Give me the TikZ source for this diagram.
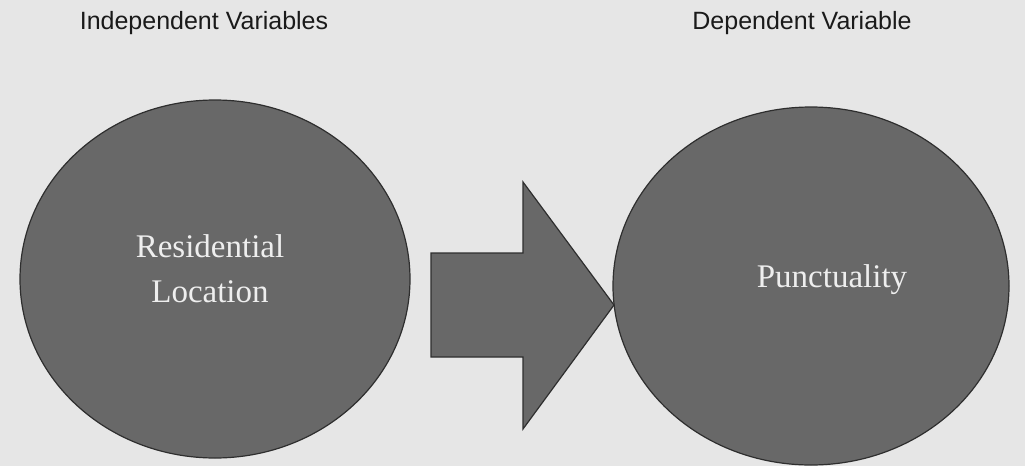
\documentclass[tikz,border=0pt]{standalone}
\usepackage{fontspec}
\setmainfont{Liberation Serif}
\newfontfamily\headfont{Liberation Sans}
\usetikzlibrary{shapes.geometric}
\definecolor{bg}{HTML}{E6E6E6}
\definecolor{shapefill}{HTML}{686868}
\definecolor{shapeline}{HTML}{2E2E2E}
\definecolor{inner}{HTML}{EEEEEE}
\definecolor{head}{HTML}{1A1A1A}
\tikzset{
  blob/.style={ellipse, draw=shapeline, line width=1.2pt, fill=shapefill, inner sep=0pt,
    text=inner, font=\fontsize{33}{45}\selectfont, align=center},
  heading/.style={font=\headfont\fontsize{25}{29}\selectfont, text=head, inner sep=0pt}
}
\begin{document}
\begin{tikzpicture}[x=1pt,y=-1pt]
\useasboundingbox (0,0) rectangle (1025,466);
\fill[bg] (0,0) rectangle (1025,466);
\node[heading] (indep) at (204,23) {Independent Variables};
\node[heading] (dep) at (802,23) {Dependent Variable};
\node[blob, minimum width=390pt, minimum height=358pt] (res) at (215,279) {};
\node[font=\fontsize{33}{45}\selectfont, text=inner, align=center, inner sep=0pt] (restext) at (210,269) {Residential\\Location};
\node[blob, minimum width=396pt, minimum height=358pt] (punc) at (811,286) {};
\node[font=\fontsize{33}{45}\selectfont, text=inner, inner sep=0pt] (punctext) at (832,280) {Punctuality};
\draw[shapeline, line width=1.2pt, fill=shapefill, line join=miter]
  (431,253) -- (523,253) -- (523,182) -- (614,305) -- (523,429) -- (523,357) -- (431,357) -- cycle;
\end{tikzpicture}
\end{document}
